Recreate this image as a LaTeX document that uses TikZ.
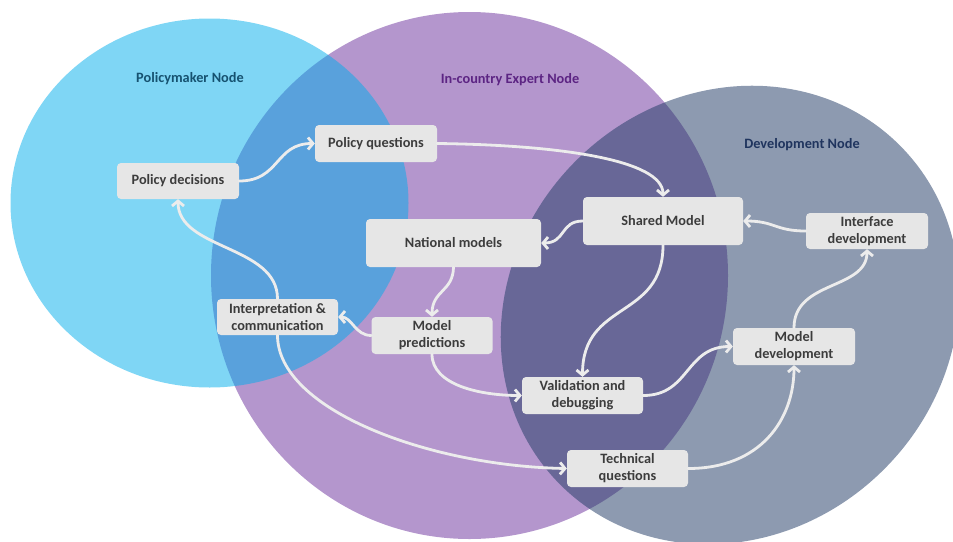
\documentclass[tikz,border=0pt]{standalone}
\usepackage{fontspec}
\setmainfont{Carlito}
\usetikzlibrary{arrows.meta}
\definecolor{cyanC}{RGB}{0,173,235}
\definecolor{purpC}{RGB}{180,150,205}
\definecolor{slateC}{RGB}{36,61,103}
\definecolor{boxC}{RGB}{230,230,230}
\definecolor{txtC}{RGB}{60,60,60}
\definecolor{lineC}{RGB}{236,236,236}
\definecolor{tealT}{RGB}{22,82,112}
\definecolor{purpT}{RGB}{92,36,131}
\definecolor{navyT}{RGB}{31,52,94}
\begin{document}
\begin{tikzpicture}[x=1pt,y=-1pt,
  box/.style={fill=boxC, rounded corners=4pt, text=txtC, align=center, inner sep=0pt,
    font=\bfseries\fontsize{14.3}{17}\selectfont},
  ttl/.style={font=\bfseries\fontsize{14.3}{17}\selectfont},
  conn/.style={draw=lineC, line width=2.8pt, line cap=round, line join=round,
    -{Straight Barb[length=5pt,width=12pt]}}]
\useasboundingbox (0,0) rectangle (953,541);
% circles
\fill[purpC] (469.5,275.5) ellipse (258.5 and 263.5);
\fill[cyanC, fill opacity=0.5] (209.5,203) ellipse (199 and 184.5);
\begin{scope}[shift={(730,315)}, rotate=45]
  \fill[slateC, fill opacity=0.52] (0,0) ellipse (240 and 218);
\end{scope}
% titles
\node[ttl, text=tealT] (t1) at (190,79) {Policymaker Node};
\node[ttl, text=purpT] (t2) at (510,80) {In-country Expert Node};
\node[ttl, text=navyT] (t3) at (802,145) {Development Node};
% boxes
\node[box, minimum width=122pt, minimum height=36pt] (pd) at (178,181) {Policy decisions};
\node[box, minimum width=122pt, minimum height=37pt] (pq) at (376,143.5) {Policy questions};
\node[box, minimum width=175pt, minimum height=48pt] (nm) at (453.5,243) {National models};
\node[box, minimum width=160pt, minimum height=48pt] (sm) at (663,221) {Shared Model};
\node[box, minimum width=122pt, minimum height=36pt] (ifd) at (867,231) {Interface\\development};
\node[box, minimum width=121pt, minimum height=36pt] (ic) at (277.5,317) {Interpretation \&\\communication};
\node[box, minimum width=121pt, minimum height=37pt] (mp) at (432,335.5) {Model\\predictions};
\node[box, minimum width=121pt, minimum height=37pt] (vd) at (582.5,395.5) {Validation and\\debugging};
\node[box, minimum width=122pt, minimum height=37pt] (md) at (794,346.5) {Model\\development};
\node[box, minimum width=121pt, minimum height=37pt] (tq) at (627.5,468.5) {Technical\\questions};
% connectors
\draw[conn] (pd.east) .. controls (280,181) and (275,143.5) .. (pq.west);
\draw[conn] (pq.east) .. controls (560,145) and (663,160) .. (sm.north);
\draw[conn] (sm.west) .. controls (560,221) and (566,243) .. (nm.east);
\draw[conn] (ifd.west) .. controls (775,231) and (775,221) .. (sm.east);
\draw[conn] (nm.south) .. controls (453,292) and (432,290) .. (mp.north);
\draw[conn] (mp.west) .. controls (355,335.5) and (352,317) .. (ic.east);
\draw[conn] (ic.north) .. controls (277.5,245) and (178,250) .. (pd.south);
\draw[conn] (ic.south) .. controls (277.5,410) and (430,466) .. (tq.west);
\draw[conn] (mp.south) .. controls (432,385) and (480,395.5) .. (vd.west);
\draw[conn] (sm.south) .. controls (663,320) and (582.5,300) .. (vd.north);
\draw[conn] (vd.east) .. controls (690,395.5) and (685,346.5) .. (md.west);
\draw[conn] (tq.east) .. controls (760,468.5) and (794,420) .. (md.south);
\draw[conn] (md.north) .. controls (794,280) and (867,290) .. (ifd.south);
\end{tikzpicture}
\end{document}
